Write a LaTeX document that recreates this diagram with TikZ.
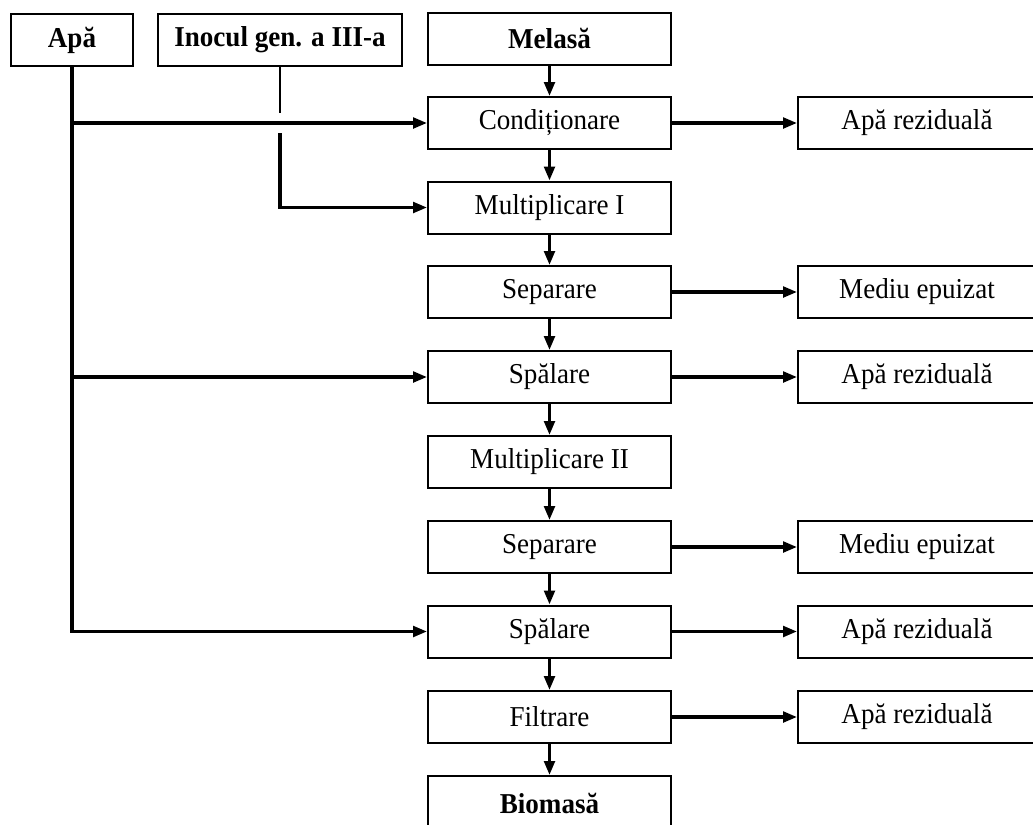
\documentclass[tikz,border=0pt]{standalone}
\usepackage{fontspec}
\setmainfont[FakeStretch=0.94]{Liberation Serif}
\usetikzlibrary{arrows.meta}
\newcommand\myfs{\fontsize{21.6}{25}\selectfont}
\tikzset{
  box/.style={draw, line width=1.5pt, minimum width=182.25pt, minimum height=39pt, inner sep=0pt, font=\myfs},
  bbox/.style={box, font=\myfs\bfseries},
  rbox/.style={box, minimum width=178.5pt},
  conn/.style={line width=2.4pt},
  arr/.style={conn, -{Triangle[length=10.5pt,width=8pt]}},
  thinline/.style={line width=1pt}
}
\begin{document}
\begin{tikzpicture}[x=0.75pt,y=-0.75pt]
\useasboundingbox (0,0) rectangle (1033,825);
% top inputs
\node[bbox, minimum width=91.5pt] (apa) at (72,40) {Apă};
\node[bbox, minimum width=183pt] (inoc) at (280,40) {Inocul gen. a III-a};
% main column
\node[bbox] (mel) at (549.5,38.5) {Melasă};
\node[box] (cond) at (549.5,123) {Condiționare};
\node[box] (mult1) at (549.5,207.5) {Multiplicare I};
\node[box] (sep1) at (549.5,292) {Separare};
\node[box] (spal1) at (549.5,377) {Spălare};
\node[box] (mult2) at (549.5,462) {Multiplicare II};
\node[box] (sep2) at (549.5,547) {Separare};
\node[box] (spal2) at (549.5,631.5) {Spălare};
\node[box] (filt) at (549.5,717) {Filtrare};
\node[bbox, minimum height=40.5pt] (bio) at (549.5,803) {Biomasă};
% outputs
\node[rbox] (o1) at (917,123) {Apă reziduală};
\node[rbox] (o2) at (917,292) {Mediu epuizat};
\node[rbox] (o3) at (917,377) {Apă reziduală};
\node[rbox] (o4) at (917,547) {Mediu epuizat};
\node[rbox] (o5) at (917,631.5) {Apă reziduală};
\node[rbox] (o6) at (917,717) {Apă reziduală};
% main column arrows
\draw[arr] (mel) -- (cond);
\draw[arr] (cond) -- (mult1);
\draw[arr] (mult1) -- (sep1);
\draw[arr] (sep1) -- (spal1);
\draw[arr] (spal1) -- (mult2);
\draw[arr] (mult2) -- (sep2);
\draw[arr] (sep2) -- (spal2);
\draw[arr] (spal2) -- (filt);
\draw[arr] (filt) -- (bio);
% outputs arrows
\draw[arr] (cond) -- (o1);
\draw[arr] (sep1) -- (o2);
\draw[arr] (spal1) -- (o3);
\draw[arr] (sep2) -- (o4);
\draw[arr] (spal2) -- (o5);
\draw[arr] (filt) -- (o6);
% water lines
\draw[arr] (apa.south) |- (spal2.west);
\draw[arr] (apa.south |- cond.west) -- (cond.west);
\draw[arr] (apa.south |- spal1.west) -- (spal1.west);
% inoculum line with jump over water line
\coordinate (jt) at (280,113);
\coordinate (jb) at (280,133);
\draw[thinline] (inoc.south) -- (jt);
\draw[arr] (jb) |- (mult1.west);
\end{tikzpicture}
\end{document}
